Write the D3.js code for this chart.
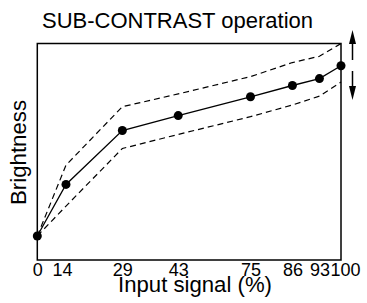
<!DOCTYPE html>
<html>
<head>
<meta charset="utf-8">
<script src="https://cdn.jsdelivr.net/npm/d3@7"></script>
<style>
  body { margin: 0; background: #fff; }
  svg { display: block; font-family: "Liberation Sans", Arial, sans-serif; }
</style>
</head>
<body>
<div id="chart"></div>
<script>
// input signal levels (x categories / tick labels)
var inputLevels = [0, 14, 29, 43, 75, 86, 93, 100];
// brightness, solid curve
var brightness = [11.1, 34.9, 59.8, 66.7, 75.4, 80.6, 83.8, 89.7];
// upper and lower dashed limits
var upperLimit = [11.1, 43.8, 70.8, 76.7, 84.7, 91.2, 94.1, 100];
var lowerLimit = [11.1, 24.9, 51.5, 58.0, 66.2, 71.6, 75.7, 82.2];

var width = 367, height = 303;
var margin = {top: 43.5, right: 26, bottom: 43, left: 37.3};

var svg = d3.select("#chart").append("svg")
    .attr("width", width)
    .attr("height", height);

var x0 = margin.left, x1 = width - margin.right;
// axis is not evenly spaced, stretch between the labelled levels
var spread = [0, 0.0945, 0.28, 0.464, 0.702, 0.84, 0.929, 1];
var x = d3.scaleLinear()
    .domain(inputLevels)
    .range(spread.map(function(f){ return x0 + f * (x1 - x0); }));

var y = d3.scaleLinear()
    .domain([0, 100])
    .range([height - margin.bottom, margin.top]);

// scale a label's font so it spans about the wanted length
function fit(sel, size, len){
    sel.style("font-size", size + "px");
    var w = sel.node().getComputedTextLength();
    sel.style("font-size", (size * len / w).toFixed(2) + "px");
    return sel;
}

fit(svg.append("text")
    .attr("x", 177.5)
    .attr("y", 28)
    .attr("text-anchor", "middle")
    .text("SUB-CONTRAST operation"), 21, 271);

svg.append("rect")
    .attr("x", x0)
    .attr("y", y(100))
    .attr("width", x1 - x0)
    .attr("height", y(0) - y(100))
    .attr("fill", "none")
    .attr("stroke", "#000")
    .attr("stroke-width", 1.5);

var xAxis = svg.append("g")
    .attr("transform", "translate(0," + y(0) + ")")
    .call(d3.axisBottom(x).tickValues(inputLevels).tickSize(0).tickPadding(3.2).tickFormat(d3.format("d")));
xAxis.select(".domain").remove();
xAxis.selectAll("text")
    .style("font-size", "18px")
    .style("font-family", "'Liberation Sans', Arial, sans-serif")
    .attr("fill", "#000")
    .attr("dx", function(d){ return d === 100 ? 4 : (d === 14 ? -4 : 0); });

fit(svg.append("text")
    .attr("x", 195)
    .attr("y", 291.5)
    .attr("text-anchor", "middle")
    .text("Input signal (%)"), 21, 154);

fit(svg.append("text")
    .attr("transform", "translate(26,152.5) rotate(-90)")
    .attr("text-anchor", "middle")
    .text("Brightness"), 21, 105);

var line = d3.line()
    .x(function(d, i){ return x(inputLevels[i]); })
    .y(function(d){ return y(d); });

[upperLimit, lowerLimit].forEach(function(s){
    svg.append("path")
        .attr("d", line(s))
        .attr("fill", "none")
        .attr("stroke", "#000")
        .attr("stroke-width", 1.2)
        .attr("stroke-dasharray", "6,4");
});

svg.append("path")
    .attr("d", line(brightness))
    .attr("fill", "none")
    .attr("stroke", "#000")
    .attr("stroke-width", 1.3);

svg.selectAll(".dot")
    .data(brightness)
    .enter().append("circle")
    .attr("class", "dot")
    .attr("cx", function(d, i){ return x(inputLevels[i]); })
    .attr("cy", function(d){ return y(d); })
    .attr("r", 4.5)
    .attr("fill", "#000");

// double arrow at the right: brightness adjustable up / down
var ax = 352.5;
svg.append("line")
    .attr("x1", ax).attr("x2", ax)
    .attr("y1", 60).attr("y2", 40)
    .attr("stroke", "#000").attr("stroke-width", 1.5);
svg.append("path")
    .attr("d", "M" + ax + ",30 L" + (ax - 3.5) + ",44 L" + (ax + 3.5) + ",44 Z")
    .attr("fill", "#000");
svg.append("line")
    .attr("x1", ax).attr("x2", ax)
    .attr("y1", 71).attr("y2", 90)
    .attr("stroke", "#000").attr("stroke-width", 1.5);
svg.append("path")
    .attr("d", "M" + ax + ",100 L" + (ax - 3.5) + ",86 L" + (ax + 3.5) + ",86 Z")
    .attr("fill", "#000");
</script>
</body>
</html>
